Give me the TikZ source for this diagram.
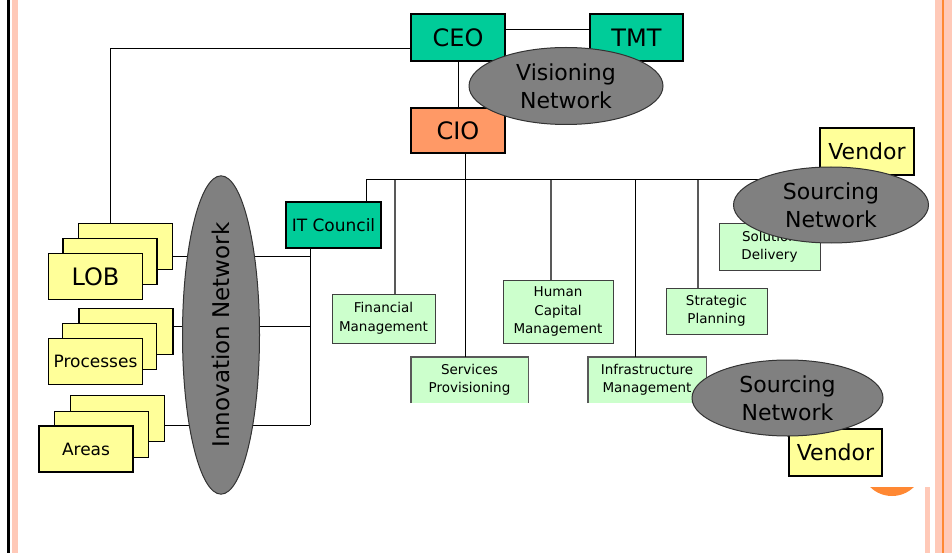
\documentclass[tikz,border=0pt]{standalone}
\usepackage{fontspec}
\setmainfont{DejaVu Sans}
\usepackage{tikz}
\usetikzlibrary{shapes.geometric}

\definecolor{ceoteal}{HTML}{00CC99}
\definecolor{cioorange}{HTML}{FF9966}
\definecolor{unitgreen}{HTML}{CCFFCC}
\definecolor{lobyellow}{HTML}{FFFF99}
\definecolor{netgray}{HTML}{808080}
\definecolor{bandpink}{HTML}{FFC9B8}
\definecolor{bandorange}{HTML}{FF8833}

\begin{document}
\begin{tikzpicture}[x=1pt, y=-1pt,
    tealbox/.style={draw=black, line width=1.3pt, fill=ceoteal, inner sep=0pt,
        minimum height=47pt, font=\fontsize{24}{28}\selectfont},
    unitbox/.style={draw=black!75, line width=1pt, fill=unitgreen, inner sep=0pt,
        align=center, font=\fontsize{13.5}{18.5}\selectfont},
    openbox/.style={fill=unitgreen, inner sep=0pt, align=center,
        font=\fontsize{13.5}{18.5}\selectfont},
    stackbox/.style={draw=black, line width=1.2pt, fill=lobyellow, inner sep=0pt,
        minimum width=94pt, minimum height=46pt, font=\fontsize{17}{20}\selectfont},
    vendorbox/.style={draw=black, line width=1.2pt, fill=lobyellow, inner sep=0pt,
        minimum height=47pt, font=\fontsize{22}{26}\selectfont},
    network/.style={ellipse, draw=black!80, line width=1pt, fill=netgray, inner sep=0pt,
        align=center, font=\fontsize{22}{28}\selectfont},
    link/.style={draw=black, line width=1pt},
    drop/.style={draw=black!65, line width=1.4pt}]
    \useasboundingbox (0,0) rectangle (952,553);

    % Page borders
    \fill[black] (7,0) rectangle (9.5,553);
    \fill[bandpink] (12,0) rectangle (18,553);
    \fill[bandpink] (935,0) rectangle (952,553);
    \fill[bandorange] (942,0) rectangle (944,553);
    \fill[bandpink] (925,487) rectangle (930,553);
    \begin{scope}
        \clip (860,487) rectangle (924,500);
        \fill[bandorange] (892,465) circle (31pt);
    \end{scope}

    % Junction points
    \coordinate (k) at (110,49);
    \coordinate (bus) at (366,180);
    \coordinate (busend) at (830,180);
    \coordinate (d1) at (395,180);
    \coordinate (d2) at (551,180);
    \coordinate (d3) at (635,180);
    \coordinate (d4) at (698,180);
    \coordinate (j1) at (310,256);
    \coordinate (j2) at (310,326);
    \coordinate (j3) at (310,425);

    % Top of the chart
    \node[tealbox, minimum width=94pt] (ceo) at (458,37.5) {CEO};
    \node[tealbox, minimum width=93pt] (tmt) at (636.5,37.5) {TMT};
    \node[tealbox, fill=cioorange, minimum width=94pt, minimum height=45pt] (cio) at (458,130.5) {CIO};
    \node[tealbox, minimum width=95pt, minimum height=46pt, font=\fontsize{17}{20}\selectfont] (itc) at (333.5,225) {IT Council};

    % The units under the CIO
    \node[unitbox, minimum width=103pt, minimum height=49pt] (fm) at (383.5,318.5) {Financial\\Management};
    \node[openbox, minimum width=117pt, minimum height=46pt] (sp) at (469.5,380) {Services\\Provisioning};
    \node[unitbox, minimum width=110pt, minimum height=63pt] (hcm) at (558,311.5) {Human\\Capital\\Management};
    \node[openbox, minimum width=118pt, minimum height=46pt] (im) at (647,380) {Infrastructure\\Management};
    \node[unitbox, minimum width=101pt, minimum height=46pt] (stp) at (716.5,311) {Strategic\\Planning};
    \node[unitbox, minimum width=101pt, minimum height=46pt] (sd) at (769.5,247) {Solution\\Delivery};
    \draw[drop] (sp.south west) |- (sp.north east) -- (sp.south east);
    \draw[drop] (im.south west) |- (im.north east) -- (im.south east);

    % Lines of business, processes, areas
    \node[stackbox] (lobC) at (125.5,246.5) {};
    \node[stackbox] (lobB) at (110,261.5) {};
    \node[stackbox, font=\fontsize{24}{28}\selectfont] (lob) at (95.5,276.5) {LOB};
    \node[stackbox] (procC) at (126,331.5) {};
    \node[stackbox] (procB) at (109.5,346.5) {};
    \node[stackbox] (proc) at (95.5,361.5) {Processes};
    \node[stackbox] (areaC) at (117.5,418.5) {};
    \node[stackbox] (areaB) at (101.5,434.5) {};
    \node[stackbox] (area) at (86,449) {Areas};

    % Connectors
    \draw[link] ([yshift=7.5pt]ceo.east) -- ([yshift=7.5pt]tmt.west);
    \draw[link] (ceo) -- (cio);
    \draw[link] (ceo.west |- k) -- (k) -- (k |- lobC.north);
    \draw[link] ([xshift=7pt]cio.south) -- ([xshift=7pt]cio.south |- sp.north);
    \draw[link] (bus) -- (busend);
    \draw[link] (bus) -- (bus |- itc.north);
    \draw[drop] (d1) -- (d1 |- fm.north);
    \draw[drop] (d2) -- (d2 |- hcm.north);
    \draw[link] (d3) -- (d3 |- im.north);
    \draw[drop] (d4) -- (d4 |- stp.north);
    \draw[link] (itc.south -| j1) -- (j3);
    \draw[link] (lobC.east |- j1) -- (j1);
    \draw[link] (procC.east |- j2) -- (j2);
    \draw[link] (areaC.east |- j3) -- (j3);

    % Vendors
    \node[vendorbox, minimum width=94pt] (ven1) at (867,151.5) {Vendor};
    \node[vendorbox, minimum width=93pt] (ven2) at (835.5,452.5) {Vendor};

    % Networks
    \node[network, minimum width=194pt, minimum height=77pt] (vis) at (566,86) {Visioning\\Network};
    \node[network, minimum width=195pt, minimum height=76pt] (src1) at (831,205) {Sourcing\\Network};
    \node[network, minimum width=191pt, minimum height=76pt] (src2) at (787.5,398) {Sourcing\\Network};
    \node[network, rotate=90, minimum width=288pt, minimum height=77pt, font=\fontsize{23}{28}\selectfont] (inno) at (221,335) {Innovation Network};
\end{tikzpicture}
\end{document}
